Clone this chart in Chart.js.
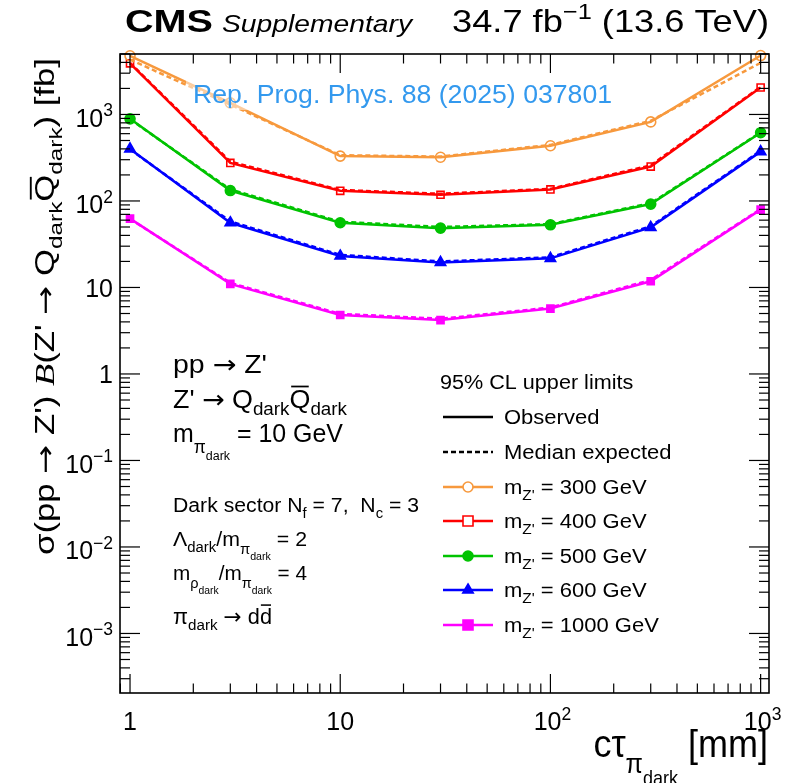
<!DOCTYPE html>
<html>
<head>
<meta charset="utf-8">
<script src="https://cdn.jsdelivr.net/npm/chart.js@4/dist/chart.umd.min.js"></script>
<style>
  html, body { margin: 0; padding: 0; background: #fff; }
  canvas { display: block; }
</style>
</head>
<body>
<canvas id="limits" width="795" height="783"></canvas>
<script>
// c*tau of the dark pion [mm]
var ctau = [1, 3, 10, 30, 100, 300, 1000];
var massLabels = ["300", "400", "500", "600", "1000"];

// 95% CL upper limits [fb], observed / median expected
var obs300 = [4770, 1360, 330, 320, 435, 820, 4800];
var exp300 = [4300, 1300, 338, 326, 445, 845, 3950];
var obs400 = [3900, 275, 131, 118, 136, 250, 2050];
var exp400 = [3950, 285, 134, 121, 138, 258, 2080];
var obs500 = [890, 132, 56, 48.5, 53, 92, 615];
var exp500 = [880, 136, 57.5, 50, 54, 94, 620];
var obs600 = [400, 56, 23.1, 19.5, 21.7, 49.5, 372];
var exp600 = [395, 58, 23.8, 20, 22.3, 51, 380];
var obs1000 = [62.5, 11, 4.8, 4.2, 5.7, 11.8, 79.5];
var exp1000 = [62, 11.3, 4.95, 4.35, 5.85, 12.2, 80.5];

var xTickValues = [1, 10, 100, 1000];
var xTickLabels = [["1"], ["10"], ["10", "2"], ["10", "3"]];
var yTickValues = [1000, 100, 10, 1, 0.1, 0.01, 0.001];
var yTickLabels = [["10", "3"], ["10", "2"], ["10"], ["1"], ["10", "\u22121"], ["10", "\u22122"], ["10", "\u22123"]];

var observed = [obs300, obs400, obs500, obs600, obs1000];
var expected = [exp300, exp400, exp500, exp600, exp1000];

var colors = ["#f7993d", "#ff0000", "#00c300", "#0000ff", "#ff00ff"];
var markers = ["circle", "rect", "circle", "triangle", "rect"];
var hollow = [true, true, false, false, false];
var markerSize = [5, 5, 5, 6, 5];

var FONT = '"Liberation Sans", Arial, Helvetica, sans-serif';
var SERIF = '"Liberation Serif", "DejaVu Serif", serif';
var ARROW = '"DejaVu Sans", sans-serif';

var styles = {
  n:    { f: 1.0, dy: 0 },
  b:    { f: 1.0, dy: 0, w: "bold " },
  it:   { f: 1.0, dy: 0, w: "italic " },
  B:    { f: 1.05, dy: 0, w: "italic ", family: SERIF },
  ar:   { f: 1.0, dy: 0, family: ARROW },
  ob:   { f: 1.0, dy: 0, over: true },
  sub:  { f: 0.7, dy: 0.28 },
  sup:  { f: 0.7, dy: -0.42 },
  sub2: { f: 0.7, dy: 0.42 },
  ss:   { f: 0.5, dy: 0.72 }
};

function setFont(ctx, st, s) {
  ctx.font = (st.w || "") + (s * st.f) + "px " + (st.family || FONT);
}

// arrows go to a font where the glyph is long enough
function expand(parts) {
  var out = [];
  parts.forEach(function (p) {
    var st = p[1] || "n";
    if (st !== "n" || p[0].indexOf("\u2192") < 0) { out.push([p[0], st]); return; }
    p[0].split("\u2192").forEach(function (piece, i) {
      if (i > 0) out.push(["\u2192", "ar"]);
      if (piece) out.push([piece, "n"]);
    });
  });
  return out;
}

function measureRich(ctx, parts, s) {
  var w = 0;
  parts.forEach(function (p) {
    setFont(ctx, styles[p[1]], s);
    w += ctx.measureText(p[0]).width;
  });
  return w;
}

// parts: [[text, style], ...]
function drawRich(ctx, parts, x, y, s, o) {
  o = o || {};
  parts = expand(parts);
  var w = measureRich(ctx, parts, s);
  var sx = o.fit ? o.fit / w : (o.sx || 1);
  ctx.save();
  ctx.translate(x, y);
  if (o.rot) ctx.rotate(o.rot);
  var start = o.align === "right" ? -w * sx : o.align === "center" ? -w * sx / 2 : 0;
  ctx.translate(start, 0);
  ctx.scale(sx, o.sy || 1);
  ctx.fillStyle = o.color || "#000";
  ctx.strokeStyle = o.color || "#000";
  ctx.textBaseline = "alphabetic";
  ctx.textAlign = "left";
  var cx = 0;
  parts.forEach(function (p) {
    var st = styles[p[1]];
    setFont(ctx, st, s);
    var pw = ctx.measureText(p[0]).width;
    ctx.fillText(p[0], cx, st.dy * s);
    if (st.over) {
      ctx.lineWidth = s * 0.07;
      ctx.beginPath();
      ctx.moveTo(cx + pw * 0.08, -s * 0.86);
      ctx.lineTo(cx + pw * 0.92, -s * 0.86);
      ctx.stroke();
    }
    cx += pw;
  });
  ctx.restore();
}

function drawMarker(ctx, i, x, y) {
  var r = markerSize[i];
  ctx.save();
  ctx.lineWidth = 1.6;
  ctx.strokeStyle = colors[i];
  ctx.fillStyle = hollow[i] ? "#fff" : colors[i];
  ctx.beginPath();
  if (markers[i] === "circle") ctx.arc(x, y, r, 0, Math.PI * 2);
  else if (markers[i] === "rect") ctx.rect(x - r, y - r, 2 * r, 2 * r);
  else {
    ctx.moveTo(x, y - r);
    ctx.lineTo(x + r * 0.87, y + r * 0.5);
    ctx.lineTo(x - r * 0.87, y + r * 0.5);
    ctx.closePath();
  }
  ctx.fill();
  ctx.stroke();
  ctx.restore();
}

function line(ctx, x1, y1, x2, y2) {
  ctx.beginPath();
  ctx.moveTo(x1, y1);
  ctx.lineTo(x2, y2);
  ctx.stroke();
}

var decorations = {
  id: "decorations",
  afterDatasetsDraw: function (chart) {
    var ctx = chart.ctx;
    var ca = chart.chartArea;
    var xs = chart.scales.x;
    var ys = chart.scales.y;

    // journal reference over a half-transparent box
    ctx.save();
    ctx.fillStyle = "rgba(255,255,255,0.5)";
    ctx.fillRect(186, 80, 432, 30);
    ctx.restore();
    drawRich(ctx, [["Rep. Prog. Phys. 88 (2025) 037801"]], 193, 103, 25, { fit: 419, color: "#3399ee" });

    // frame
    ctx.save();
    ctx.strokeStyle = "#000";
    ctx.lineWidth = 1.6;
    ctx.strokeRect(ca.left, ca.top, ca.right - ca.left, ca.bottom - ca.top);

    // ticks on all four sides
    ctx.lineWidth = 1.2;
    var d, k, v, p, len;
    for (d = -1; d <= 3; d++) {
      for (k = 1; k <= 9; k++) {
        v = k * Math.pow(10, d);
        if (v < xs.min || v > xs.max) continue;
        p = xs.getPixelForValue(v);
        len = k === 1 ? 19 : 9.5;
        line(ctx, p, ca.bottom, p, ca.bottom - len);
        line(ctx, p, ca.top, p, ca.top + len);
      }
    }
    for (d = -4; d <= 3; d++) {
      for (k = 1; k <= 9; k++) {
        v = k * Math.pow(10, d);
        if (v < ys.min || v > ys.max) continue;
        p = ys.getPixelForValue(v);
        len = k === 1 ? 20 : 10;
        line(ctx, ca.left, p, ca.left + len, p);
        line(ctx, ca.right, p, ca.right - len, p);
      }
    }
    ctx.restore();

    // tick labels
    xTickValues.forEach(function (val, i) {
      var lab = xTickLabels[i];
      var parts = [[lab[0]]];
      if (lab[1]) parts.push([lab[1], "sup"]);
      drawRich(ctx, parts, xs.getPixelForValue(val) + (lab[1] ? 2 : 0), 730, 25, { align: "center" });
    });
    yTickValues.forEach(function (val, i) {
      var lab = yTickLabels[i];
      var parts = [[lab[0]]];
      if (lab[1]) parts.push([lab[1], "sup"]);
      var py = ys.getPixelForValue(val) + (lab[1] ? 12.5 : 9.5);
      drawRich(ctx, parts, 113, py, 25, { align: "right" });
    });

    // header
    drawRich(ctx, [["CMS", "b"]], 125, 32, 32, { fit: 88 });
    drawRich(ctx, [["Supplementary", "it"]], 222, 32, 24, { fit: 190 });
    drawRich(ctx, [["34.7 fb"], ["\u22121", "sup"], [" (13.6 TeV)"]], 769, 32, 32, { align: "right", fit: 317 });

    // axis titles
    drawRich(ctx, [["c\u03c4"], ["\u03c0", "sub2"], ["dark", "ss"], [" [mm]"]], 768, 757, 36, { align: "right", sy: 1.08 });
    drawRich(ctx, [["\u03c3(pp \u2192 Z') "], ["B", "B"], ["(Z' \u2192 Q"], ["dark", "sub"], ["Q", "ob"], ["dark", "sub"], [") [fb]"]],
      54, 555, 27, { rot: -Math.PI / 2, fit: 497 });

    // process description
    drawRich(ctx, [["pp \u2192 Z'"]], 173, 373, 25, { fit: 94 });
    drawRich(ctx, [["Z' \u2192 Q"], ["dark", "sub"], ["Q", "ob"], ["dark", "sub"]], 173, 408, 25, { fit: 174 });
    drawRich(ctx, [["m"], ["\u03c0", "sub2"], ["dark", "ss"], [" = 10 GeV"]], 173, 442, 25, { fit: 170 });
    drawRich(ctx, [["Dark sector N"], ["f", "sub"], [" = 7,  N"], ["c", "sub"], [" = 3"]], 173, 512, 20, { fit: 246 });
    drawRich(ctx, [["\u039b"], ["dark", "sub"], ["/m"], ["\u03c0", "sub2"], ["dark", "ss"], [" = 2"]], 173, 546, 20, { fit: 134 });
    drawRich(ctx, [["m"], ["\u03c1", "sub2"], ["dark", "ss"], ["/m"], ["\u03c0", "sub2"], ["dark", "ss"], [" = 4"]], 173, 580, 20, { fit: 134 });
    drawRich(ctx, [["\u03c0"], ["dark", "sub"], [" \u2192 d"], ["d", "ob"]], 173, 624, 22, { fit: 99 });

    // legend
    var lx0 = 443, lx1 = 493, tx = 504, lsx = 1.1;
    drawRich(ctx, [["95% CL upper limits"]], 440, 389, 20, { sx: 1.08 });
    ctx.save();
    ctx.strokeStyle = "#000";
    ctx.lineWidth = 2.5;
    line(ctx, lx0, 417, lx1, 417);
    ctx.setLineDash([5, 3]);
    line(ctx, lx0, 452, lx1, 452);
    ctx.restore();
    drawRich(ctx, [["Observed"]], tx, 424, 20, { sx: lsx });
    drawRich(ctx, [["Median expected"]], tx, 459, 20, { sx: lsx });
    var rows = [487, 521, 556, 590, 625];
    massLabels.forEach(function (m, i) {
      ctx.save();
      ctx.strokeStyle = colors[i];
      ctx.lineWidth = 2.5;
      line(ctx, lx0, rows[i], lx1, rows[i]);
      ctx.restore();
      drawMarker(ctx, i, (lx0 + lx1) / 2, rows[i]);
      drawRich(ctx, [["m"], ["Z'", "sub"], [" = " + m + " GeV"]], tx, rows[i] + 7, 20, { sx: lsx });
    });
  }
};

var datasets = [];
massLabels.forEach(function (m, i) {
  datasets.push({
    label: "m_Z' = " + m + " GeV expected",
    data: ctau.map(function (x, j) { return { x: x, y: expected[i][j] }; }),
    borderColor: colors[i],
    borderWidth: 2.5,
    borderDash: [5, 3],
    pointRadius: 0,
    tension: 0,
    clip: false,
    order: 1
  });
  datasets.push({
    label: "m_Z' = " + m + " GeV observed",
    data: ctau.map(function (x, j) { return { x: x, y: observed[i][j] }; }),
    borderColor: colors[i],
    borderWidth: 2.5,
    pointStyle: markers[i],
    pointRadius: markerSize[i],
    pointBorderWidth: 1.6,
    pointBorderColor: colors[i],
    pointBackgroundColor: hollow[i] ? "rgba(255,255,255,0)" : colors[i],
    tension: 0,
    clip: false,
    order: 2
  });
});

new Chart(document.getElementById("limits"), {
  type: "line",
  data: { datasets: datasets },
  options: {
    responsive: false,
    animation: false,
    devicePixelRatio: 1,
    layout: { padding: { left: 120, right: 26, top: 54, bottom: 90 } },
    plugins: { legend: { display: false }, tooltip: { enabled: false } },
    scales: {
      x: { type: "logarithmic", min: 0.896, max: 1096, display: false },
      y: { type: "logarithmic", min: 2.05e-4, max: 5000, display: false }
    }
  },
  plugins: [decorations]
});
</script>
</body>
</html>
